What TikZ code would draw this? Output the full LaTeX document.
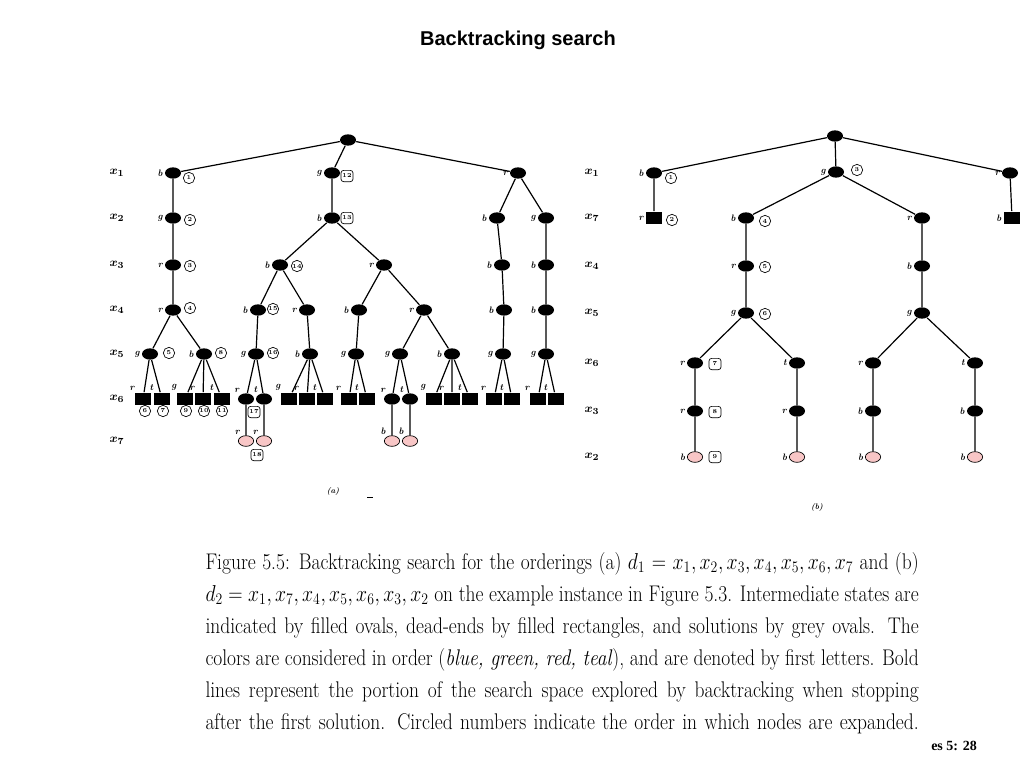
\documentclass[tikz,border=0pt]{standalone}
\usepackage{fontspec}
\usepackage{graphicx}
\usetikzlibrary{shapes.geometric}
\newfontfamily\titlefont{Liberation Sans}
\newfontfamily\footfont{Liberation Serif}
\definecolor{soln}{RGB}{248,198,198}
\tikzset{every picture/.style={line width=0.75pt},
  st/.style={ellipse,fill=black,minimum width=12pt,minimum height=8.5pt,inner sep=0pt},
  de/.style={rectangle,fill=black,minimum width=12.5pt,minimum height=9.5pt,inner sep=0pt},
  so/.style={ellipse,draw=black,fill=soln,line width=0.5pt,minimum width=11.5pt,minimum height=8pt,inner sep=0pt},
  num/.style={circle,draw,line width=0.5pt,minimum size=8.5pt,inner sep=0pt,font=\fontsize{4.5}{5}\selectfont\bfseries},
  numbox/.style={rectangle,rounded corners=2pt,draw,line width=0.5pt,minimum width=9pt,minimum height=8.5pt,inner sep=0.5pt,font=\fontsize{4.5}{5}\selectfont\bfseries},
  lbl/.style={font=\fontsize{7}{7}\selectfont\bfseries\itshape,inner sep=1pt},
  lev/.style={font=\fontsize{9.5}{9.5}\selectfont\boldmath},
  lab/.style={label={[lbl]left:#1}},
  labt/.style={label={[lbl]135:#1}},
  edge/.style={line width=0.9pt}
}

\begin{document}
\begin{tikzpicture}[x=0.75pt,y=0.75pt,yscale=-1,xscale=1]
\path (0,0) rectangle (1024,768); %page 1024 x 768

% Title
\node[font=\titlefont\bfseries\fontsize{15}{18}\selectfont] (title) at (518,40) {Backtracking search};

%%%%%%%% tree (a)
% level names
\node[lev] (la1) at (117,173) {$x_1$};
\node[lev] (la2) at (117,218) {$x_2$};
\node[lev] (la3) at (117,265) {$x_3$};
\node[lev] (la4) at (117,310) {$x_4$};
\node[lev] (la5) at (117,354) {$x_5$};
\node[lev] (la6) at (117,399) {$x_6$};
\node[lev] (la7) at (117,441) {$x_7$};

% root
\node[st] (a0) at (348,140) {};
% x1 = b
\node[st,lab=b] (a1) at (173,173) {};
\node[st,lab=g] (a2) at (173,218) {};
\node[st,lab=r] (a3) at (173,265) {};
\node[st,lab=r] (a4) at (173,310) {};
\node[st,lab=g] (a5) at (150,354) {};
\node[st,lab=b] (a6) at (204,354) {};
\node[de,labt=r] (a7) at (143,399) {};
\node[de,labt=t] (a8) at (162,399) {};
\node[de,labt=g] (a9) at (185,399) {};
\node[de,labt=r] (a10) at (203,399) {};
\node[de,labt=t] (a11) at (222,399) {};
% x1 = g
\node[st,lab=g] (a12) at (332,173) {};
\node[st,lab=b] (a13) at (332,218) {};
\node[st,lab=b] (a14) at (280,265) {};
\node[st,lab=r] (a15) at (384,265) {};
\node[st,lab=b] (a16) at (258,310) {};
\node[st,lab=r] (a17) at (307,310) {};
\node[st,lab=g] (a18) at (256,354) {};
\node[st,labt=r] (a19) at (246,399) {};
\node[st,labt=t] (a20) at (264,399) {};
\node[so,labt=r] (a21) at (246,441) {};
\node[so,labt=r] (a22) at (264,441) {};
\node[st,lab=b] (a23) at (310,354) {};
\node[de,labt=g] (a24) at (289,399) {};
\node[de,labt=r] (a25) at (307,399) {};
\node[de,labt=t] (a26) at (325,399) {};
\node[st,lab=b] (a27) at (359,310) {};
\node[st,lab=r] (a28) at (424,310) {};
\node[st,lab=g] (a29) at (356,354) {};
\node[de,labt=r] (a30) at (349,399) {};
\node[de,labt=t] (a31) at (367,399) {};
\node[st,lab=g] (a32) at (400,354) {};
\node[st,labt=r] (a33) at (392,399) {};
\node[st,labt=t] (a34) at (410,399) {};
\node[so,labt=b] (a35) at (392,441) {};
\node[so,labt=b] (a36) at (410,441) {};
\node[st,lab=b] (a37) at (452,354) {};
\node[de,labt=g] (a38) at (434,399) {};
\node[de,labt=r] (a39) at (452,399) {};
\node[de,labt=t] (a40) at (470,399) {};
% x1 = r
\node[st,lab=r] (a41) at (518,173) {};
\node[st,lab=b] (a42) at (497,218) {};
\node[st,lab=b] (a43) at (502,265) {};
\node[st,lab=b] (a44) at (504,310) {};
\node[st,lab=g] (a45) at (503,354) {};
\node[de,labt=r] (a46) at (494,399) {};
\node[de,labt=t] (a47) at (512,399) {};
\node[st,lab=g] (a48) at (546,218) {};
\node[st,lab=b] (a49) at (546,265) {};
\node[st,lab=b] (a50) at (546,310) {};
\node[st,lab=g] (a51) at (546,354) {};
\node[de,labt=r] (a52) at (538,399) {};
\node[de,labt=t] (a53) at (556,399) {};

% edges (a)
\draw[edge] (a0) -- (a1) (a0) -- (a12) (a0) -- (a41);
\draw[edge] (a1) -- (a2) -- (a3) -- (a4) (a4) -- (a5) (a4) -- (a6);
\draw[edge] (a5) -- (a7) (a5) -- (a8) (a6) -- (a9) (a6) -- (a10) (a6) -- (a11);
\draw[edge] (a12) -- (a13) (a13) -- (a14) (a13) -- (a15) (a14) -- (a16) (a14) -- (a17);
\draw[edge] (a16) -- (a18) (a18) -- (a19) (a18) -- (a20) (a19) -- (a21) (a20) -- (a22);
\draw[edge] (a17) -- (a23) (a23) -- (a24) (a23) -- (a25) (a23) -- (a26);
\draw[edge] (a15) -- (a27) (a15) -- (a28) (a27) -- (a29) (a29) -- (a30) (a29) -- (a31);
\draw[edge] (a28) -- (a32) (a28) -- (a37) (a32) -- (a33) (a32) -- (a34) (a33) -- (a35) (a34) -- (a36);
\draw[edge] (a37) -- (a38) (a37) -- (a39) (a37) -- (a40);
\draw[edge] (a41) -- (a42) -- (a43) -- (a44) -- (a45) (a45) -- (a46) (a45) -- (a47);
\draw[edge] (a41) -- (a48) -- (a49) -- (a50) -- (a51) (a51) -- (a52) (a51) -- (a53);

% order of expansion (a)
\node[num] (na1) at (189,178) {1};
\node[num] (na2) at (190,220) {2};
\node[num] (na3) at (190,266) {3};
\node[num] (na4) at (190,308) {4};
\node[num] (na5) at (169,353) {5};
\node[num] (na6) at (145,411) {6};
\node[num] (na7) at (163,411) {7};
\node[num] (na8) at (221,353) {8};
\node[num] (na9) at (186,411) {9};
\node[num] (na10) at (204,411) {10};
\node[num] (na11) at (222,411) {11};
\node[numbox] (na12) at (347,176) {12};
\node[numbox] (na13) at (347,218) {13};
\node[num] (na14) at (297,266) {14};
\node[num] (na15) at (273,309) {15};
\node[num] (na16) at (273,353) {16};
\node[numbox] (na17) at (254,412) {17};
\node[numbox] (na18) at (257,455) {18};

\node[font=\fontsize{6}{6}\selectfont\bfseries\itshape] (capa) at (333,491) {(a)};
\draw (367,497) -- (373,497);

%%%%%%%% tree (b)
% level names
\node[lev] (lb1) at (592,173) {$x_1$};
\node[lev] (lb2) at (592,218) {$x_7$};
\node[lev] (lb3) at (592,266) {$x_4$};
\node[lev] (lb4) at (592,313) {$x_5$};
\node[lev] (lb5) at (592,363) {$x_6$};
\node[lev] (lb6) at (592,411) {$x_3$};
\node[lev] (lb7) at (592,457) {$x_2$};

\node[st] (b0) at (835,136) {};
\node[st,lab=b] (b1) at (654,173) {};
\node[de,lab=r] (b2) at (654,218) {};
\node[st,lab=g] (b3) at (836,172) {};
\node[st,lab=b] (b4) at (746,218) {};
\node[st,lab=r] (b5) at (746,266) {};
\node[st,lab=g] (b6) at (746,313) {};
\node[st,lab=r] (b7) at (695,363) {};
\node[st,lab=r] (b8) at (695,411) {};
\node[so,lab=b] (b9) at (695,457) {};
\node[st,lab=t] (b10) at (797,363) {};
\node[st,lab=r] (b11) at (797,411) {};
\node[so,lab=b] (b12) at (797,457) {};
\node[st,lab=r] (b13) at (922,218) {};
\node[st,lab=b] (b14) at (922,266) {};
\node[st,lab=g] (b15) at (922,313) {};
\node[st,lab=r] (b16) at (873,363) {};
\node[st,lab=b] (b17) at (873,411) {};
\node[so,lab=b] (b18) at (873,457) {};
\node[st,lab=t] (b19) at (975,363) {};
\node[st,lab=b] (b20) at (975,411) {};
\node[so,lab=b] (b21) at (975,457) {};
\node[st,lab=r] (b22) at (1010,173) {};
\node[de,lab=b] (b23) at (1012,218) {};

% edges (b)
\draw[edge] (b0) -- (b1) (b0) -- (b3) (b0) -- (b22);
\draw[edge] (b1) -- (b2) (b22) -- (b23);
\draw[edge] (b3) -- (b4) -- (b5) -- (b6) (b6) -- (b7) -- (b8) -- (b9) (b6) -- (b10) -- (b11) -- (b12);
\draw[edge] (b3) -- (b13) -- (b14) -- (b15) (b15) -- (b16) -- (b17) -- (b18) (b15) -- (b19) -- (b20) -- (b21);

% order of expansion (b)
\node[num] (nb1) at (671,178) {1};
\node[num] (nb2) at (672,220) {2};
\node[num] (nb3) at (857,170) {3};
\node[num] (nb4) at (765,221) {4};
\node[num] (nb5) at (765,267) {5};
\node[num] (nb6) at (765,314) {6};
\node[numbox] (nb7) at (715,364) {7};
\node[numbox] (nb8) at (715,412) {8};
\node[numbox] (nb9) at (715,457) {9};

\node[font=\fontsize{6}{6}\selectfont\bfseries\itshape] (capb) at (817,507) {(b)};

% Caption
\node[anchor=base west,inner sep=0pt] (cap) at (205,569) {\scalebox{0.86}[1]{\parbox[t]{622pt}{\fontsize{17}{24}\selectfont\parfillskip=0pt\relax
Figure 5.5: Backtracking search for the orderings (a) $d_1 = x_1, x_2, x_3, x_4, x_5, x_6, x_7$ and (b)\linebreak
$d_2 = x_1, x_7, x_4, x_5, x_6, x_3, x_2$ on the example instance in Figure 5.3. Intermediate states are\linebreak
indicated by filled ovals, dead-ends by filled rectangles, and solutions by grey ovals. The\linebreak
colors are considered in order (\textit{blue, green, red, teal}), and are denoted by first letters. Bold\linebreak
lines represent the portion of the search space explored by backtracking when stopping\linebreak
after the first solution. Circled numbers indicate the order in which nodes are expanded.}}};

% Footer
\node[font=\footfont\bfseries\fontsize{10.5}{12}\selectfont] (foot) at (954,746) {es 5: 28};

\end{tikzpicture}
\end{document}
